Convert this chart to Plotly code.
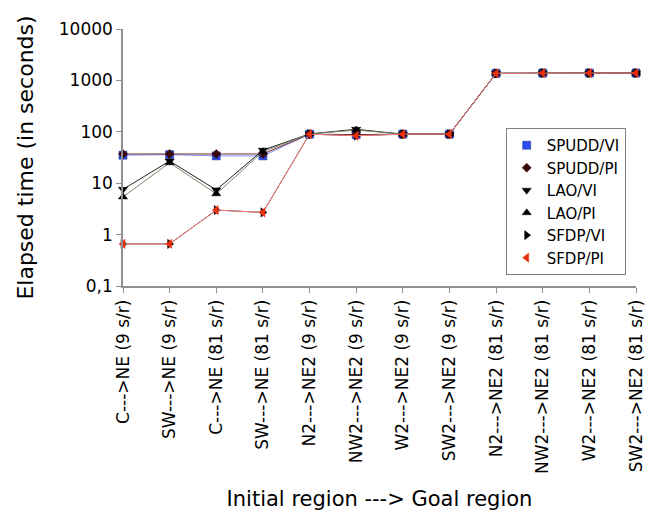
import plotly.graph_objects as go

categories = ["C--->NE (9 s/r)", "SW--->NE (9 s/r)", "C--->NE (81 s/r)", "SW--->NE (81 s/r)",
              "N2--->NE2 (9 s/r)", "NW2--->NE2 (9 s/r)", "W2--->NE2 (9 s/r)", "SW2--->NE2 (9 s/r)",
              "N2--->NE2 (81 s/r)", "NW2--->NE2 (81 s/r)", "W2--->NE2 (81 s/r)", "SW2--->NE2 (81 s/r)"]

spudd_vi = [35, 36, 34, 34, 90, 88, 90, 90, 1370, 1390, 1390, 1390]
spudd_pi = [37, 37, 37, 37, 90, 88, 90, 90, 1370, 1390, 1390, 1390]
lao_vi   = [7.6, 27, 7.4, 44, 91, 112, 90, 90, 1370, 1390, 1390, 1390]
lao_pi   = [5.4, 25, 6.2, 41, 91, 108, 90, 90, 1370, 1390, 1390, 1390]
sfdp_vi  = [0.66, 0.66, 3.0, 2.7, 90, 84, 90, 90, 1370, 1390, 1390, 1390]
sfdp_pi  = [0.66, 0.66, 3.0, 2.7, 90, 84, 90, 90, 1370, 1390, 1390, 1390]

yticks = [0.1, 1, 10, 100, 1000, 10000]
ytick_labels = ["0,1", "1", "10", "100", "1000", "10000"]

xs = list(range(len(categories)))

series = [
    ("SPUDD/VI", spudd_vi, "#8090ff", "square", "#2a4cf0", "#1a2a80", 8),
    ("SPUDD/PI", spudd_pi, "#7a2a2a", "diamond", "#3a0a0a", "#3a0a0a", 7),
    ("LAO/VI", lao_vi, "#202020", "triangle-down", "#000000", "#000000", 8),
    ("LAO/PI", lao_pi, "#7a8a6a", "triangle-up", "#000000", "#000000", 8),
    ("SFDP/VI", sfdp_vi, "#303030", "triangle-right", "#000000", "#000000", 8),
    ("SFDP/PI", sfdp_pi, "#ff8080", "triangle-left", "#e83010", "#e83010", 8),
]

fig = go.Figure()
for name, vals, lc, sym, mc, ml, sz in series:
    fig.add_trace(go.Scatter(
        x=xs, y=vals, name=name, mode="lines+markers", showlegend=False, cliponaxis=False,
        line=dict(color=lc, width=1),
        marker=dict(symbol=sym, size=sz, color=mc, line=dict(color=ml, width=0.5)),
    ))
for name, vals, lc, sym, mc, ml, sz in series:
    fig.add_trace(go.Scatter(
        x=[None], y=[None], name=name, mode="markers", showlegend=True,
        marker=dict(symbol=sym, size=sz, color=mc, line=dict(color=ml, width=0.5)),
    ))

fig.update_layout(
    width=645, height=507,
    margin=dict(l=115, r=17, t=21, b=229),
    paper_bgcolor="white", plot_bgcolor="white",
    font=dict(family="DejaVu Sans", color="black", size=16),
    showlegend=True,
    legend=dict(x=0.746, y=0.615, xanchor="left", yanchor="top",
                bordercolor="#808080", borderwidth=1, bgcolor="white",
                font=dict(size=15), itemwidth=30, tracegroupgap=0),
    xaxis=dict(range=[0, 11], tickmode="array", tickvals=xs, ticktext=categories,
               tickangle=-90, showgrid=False, zeroline=False, automargin=False,
               showline=True, linecolor="#909090", linewidth=1.5,
               ticks="outside", tickcolor="#909090", ticklen=5,
               tickfont=dict(size=17),
               title=dict(text="Initial region ---> Goal region", font=dict(size=21), standoff=18)),
    yaxis=dict(type="log", range=[-1, 4], tickmode="array", tickvals=yticks, ticktext=ytick_labels,
               showgrid=False, zeroline=False, automargin=False,
               showline=True, linecolor="#909090", linewidth=1.5,
               ticks="outside", tickcolor="#909090", ticklen=5,
               tickfont=dict(size=17),
               title=dict(text="Elapsed time (in seconds)", font=dict(size=22), standoff=19)),
)

fig.write_html("out.html")
